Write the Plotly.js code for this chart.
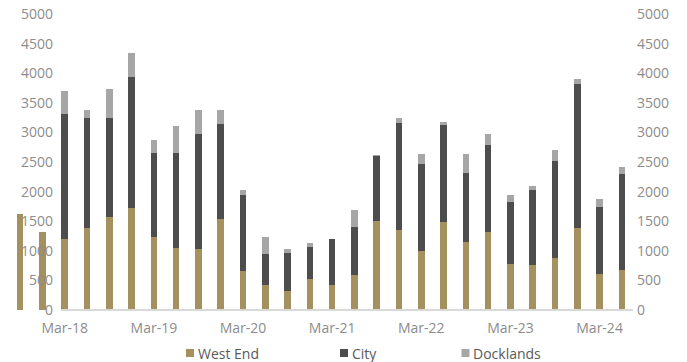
<!DOCTYPE html>
<html>
<head>
<meta charset="utf-8">
<script src="https://cdn.plot.ly/plotly-3.0.1.min.js"></script>
<style>
  html, body { margin: 0; padding: 0; background: #ffffff; }
  #chart { width: 687px; height: 362px; }
</style>
</head>
<body>
<div id="chart"></div>
<script>
// Quarterly take-up by sub-market
const quarters = ['Sep-17','Dec-17','Mar-18','Jun-18','Sep-18','Dec-18','Mar-19','Jun-19','Sep-19','Dec-19',
  'Mar-20','Jun-20','Sep-20','Dec-20','Mar-21','Jun-21','Sep-21','Dec-21','Mar-22','Jun-22',
  'Sep-22','Dec-22','Mar-23','Jun-23','Sep-23','Dec-23','Mar-24','Jun-24'];

const westEnd = [1630, 1325, 1200, 1390, 1575, 1725, 1240, 1050, 1025, 1530,
  660, 415, 325, 525, 415, 590, 1510, 1355, 1005, 1485,
  1155, 1310, 785, 760, 875, 1390, 610, 675];

const city = [null, null, 2110, 1855, 1670, 2215, 1420, 1610, 1955, 1605,
  1275, 535, 630, 535, 785, 820, 1090, 1800, 1455, 1635,
  1165, 1475, 1045, 1260, 1650, 2420, 1130, 1630];

const docklands = [null, null, 395, 130, 480, 400, 215, 455, 395, 240,
  90, 290, 80, 75, 0, 285, 25, 80, 180, 60,
  315, 180, 110, 80, 175, 90, 130, 110];

const seriesNames = ['West End', 'City', 'Docklands'];
const xTickLabels = ['Mar-18','Mar-19','Mar-20','Mar-21','Mar-22','Mar-23','Mar-24'];
const yTickValues = [0, 500, 1000, 1500, 2000, 2500, 3000, 3500, 4000, 4500, 5000];

// styling
const colors = ['#a5915f', '#4d4d4d', '#a6a6a6'];
const FONT = 'Open Sans, sans-serif';
const W = 687, H = 362;
const margin = { l: 9, r: 54, t: 14, b: 52 };
const plotW = W - margin.l - margin.r;
const plotH = H - margin.t - margin.b;
const px = x => (x - margin.l) / plotW;            // page pixel -> paper x
const py = y => (H - margin.b - y) / plotH;         // page pixel -> paper y

const values = [westEnd, city, docklands];
const traces = values.map((v, i) => ({
  type: 'bar',
  name: seriesNames[i],
  x: quarters,
  y: v,
  marker: { color: colors[i], line: { width: 0 } },
  showlegend: false,
  hoverinfo: 'x+y+name'
}));

// legend drawn as swatches + text along the bottom
const legendTextX = [196.5, 350.5, 472];
const legendY = 353;
const shapes = [
  // category axis line
  { type: 'line', xref: 'paper', yref: 'paper', x0: px(61.5), x1: 1, y0: 0, y1: 0,
    line: { color: '#d9d9d9', width: 2 }, layer: 'above' }
];
const annotations = [];
seriesNames.forEach((name, i) => {
  shapes.push({
    type: 'rect', xref: 'paper', yref: 'paper',
    xsizemode: 'pixel', ysizemode: 'pixel',
    xanchor: px(legendTextX[i] - 6.5), yanchor: py(legendY),
    x0: -4, x1: 4, y0: -4, y1: 4,
    fillcolor: colors[i], line: { width: 0 }
  });
  annotations.push({
    xref: 'paper', yref: 'paper', x: px(legendTextX[i]), y: py(legendY),
    xanchor: 'left', yanchor: 'middle', showarrow: false,
    text: name, borderpad: 0,
    font: { family: FONT, size: 14, color: '#595959' }
  });
});

const tickFont = { family: FONT, size: 14, color: '#8c8c8c' };

const layout = {
  width: W, height: H,
  margin: margin,
  paper_bgcolor: '#ffffff',
  plot_bgcolor: 'rgba(0,0,0,0)',
  barmode: 'stack',
  bargap: 0.7,
  showlegend: false,
  font: { family: FONT },
  xaxis: {
    type: 'category',
    categoryorder: 'array', categoryarray: quarters,
    range: [-0.5, quarters.length - 0.5],
    tickmode: 'array', tickvals: xTickLabels, ticktext: xTickLabels,
    tickfont: tickFont, ticks: '', showline: false, showgrid: false,
    zeroline: false, ticklabelstandoff: 8, fixedrange: true
  },
  yaxis: {
    range: [0, 5000], showticklabels: false, showgrid: false,
    zeroline: false, showline: false, ticks: '', fixedrange: true
  },
  yaxis2: {
    overlaying: 'y', anchor: 'free', position: px(53), side: 'left',
    range: [0, 5000], tickmode: 'array', tickvals: yTickValues,
    tickfont: tickFont, showgrid: false, zeroline: false, showline: false,
    ticks: '', fixedrange: true
  },
  yaxis3: {
    overlaying: 'y', anchor: 'x', side: 'right',
    range: [0, 5000], tickmode: 'array', tickvals: yTickValues,
    tickfont: tickFont, showgrid: false, zeroline: false, showline: false,
    ticks: '', ticklabelstandoff: 3, fixedrange: true
  },
  shapes: shapes,
  annotations: annotations
};

// anchor the label-only axes with empty traces so they render
const axisHolders = [
  { type: 'scatter', x: [], y: [], yaxis: 'y2', showlegend: false, hoverinfo: 'skip' },
  { type: 'scatter', x: [], y: [], yaxis: 'y3', showlegend: false, hoverinfo: 'skip' }
];

Plotly.newPlot('chart', traces.concat(axisHolders), layout, { displayModeBar: false, staticPlot: true });
</script>
</body>
</html>
